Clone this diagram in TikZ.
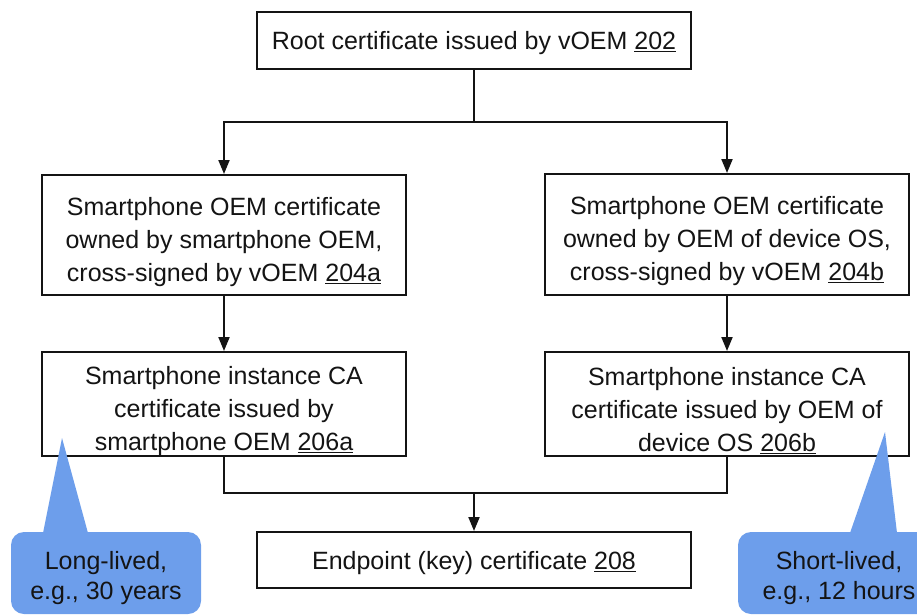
\documentclass[tikz,border=0pt]{standalone}
\usepackage{fontspec}
\setmainfont{Liberation Sans}
\usetikzlibrary{arrows.meta}
\definecolor{calloutblue}{RGB}{109,158,235}
\definecolor{ink}{RGB}{20,20,20}
\newcommand{\refnum}[1]{\underline{#1}}
\tikzset{
  certbox/.style={draw=ink, line width=2pt, fill=white, inner sep=0pt},
  certtext/.style={align=center, text=ink, inner sep=0pt,
    font=\fontsize{25}{33}\selectfont},
  link/.style={draw=ink, line width=2pt},
  linkarrow/.style={link, -{Triangle[width=11pt,length=14pt]}},
  callouttext/.style={align=center, text=ink, font=\fontsize{25}{30}\selectfont},
  calloutfill/.style={fill=calloutblue, draw=none}
}
\begin{document}
\begin{tikzpicture}[x=1pt,y=-1pt]
\useasboundingbox (0,0) rectangle (917,615);
\clip (0,0) rectangle (917,615);

% certificate boxes
\node[certbox, minimum width=434pt, minimum height=57pt] (root) at (474,40.5) {};
\node[certbox, minimum width=364pt, minimum height=120pt] (oemA) at (224,235) {};
\node[certbox, minimum width=364pt, minimum height=121pt] (oemB) at (727,234.5) {};
\node[certbox, minimum width=364pt, minimum height=104pt] (caA) at (224,404) {};
\node[certbox, minimum width=364pt, minimum height=104pt] (caB) at (727,404) {};
\node[certbox, minimum width=434pt, minimum height=56pt] (endpoint) at (474,560) {};

% box texts, set a little below the geometric centre
\node[certtext] (rootText) at ([yshift=-3pt]root.center)
  {Root certificate issued by vOEM \refnum{202}};
\node[certtext] (oemAText) at ([yshift=-7pt]oemA.center)
  {Smartphone OEM certificate\\owned by smartphone OEM,\\cross-signed by vOEM \refnum{204a}};
\node[certtext] (oemBText) at ([yshift=-7pt]oemB.center)
  {Smartphone OEM certificate\\owned by OEM of device OS,\\cross-signed by vOEM \refnum{204b}};
\node[certtext] (caAText) at ([yshift=-7pt]caA.center)
  {Smartphone instance CA\\certificate issued by\\smartphone OEM \refnum{206a}};
\node[certtext] (caBText) at ([yshift=-7pt]caB.center)
  {Smartphone instance CA\\certificate issued by OEM of\\device OS \refnum{206b}};
\node[certtext] (endpointText) at ([yshift=-3.5pt]endpoint.center)
  {Endpoint (key) certificate \refnum{208}};

% connectors
\coordinate (split) at (474,122);
\coordinate (merge) at (474,493);
\draw[link] (root.south) -- (split);
\draw[linkarrow] (split) -| (oemA.north);
\draw[linkarrow] (split) -| (oemB.north);
\draw[linkarrow] (oemA.south) -- (caA.north);
\draw[linkarrow] (oemB.south) -- (caB.north);
\draw[link] (caA.south) |- (merge);
\draw[link] (caB.south) |- (merge);
\draw[linkarrow] (merge) -- (endpoint.north);

% lifetime callouts
\fill[calloutfill] (43,533) -- (62,438) -- (88,533) -- cycle;
\fill[calloutfill, rounded corners=13pt] (11,532) rectangle (201,614);
\node[callouttext] (longlived) at (106,578) {Long-lived,\\e.g., 30 years};

\fill[calloutfill] (850,533) -- (885,432) -- (897,533) -- cycle;
\fill[calloutfill, rounded corners=13pt] (738,532) rectangle (940,614);
\node[callouttext] (shortlived) at (839,578) {Short-lived,\\e.g., 12 hours};
\end{tikzpicture}
\end{document}
